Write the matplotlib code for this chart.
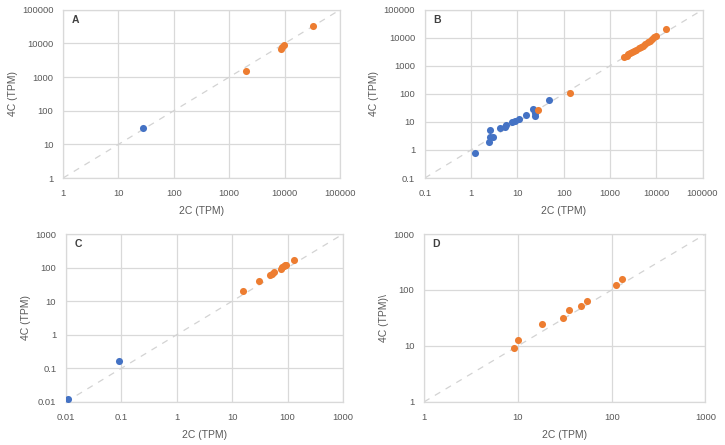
import matplotlib
matplotlib.use("Agg")
import matplotlib.pyplot as plt
from matplotlib.ticker import FixedLocator, FixedFormatter

plt.rcParams['font.family'] = ['Liberation Sans', 'DejaVu Sans']

BLUE = "#4472C4"
ORANGE = "#ED7D31"
GRID = "#D9D9D9"
TEXT = "#595959"

# panel A
a_blue_x = [28]
a_blue_y = [30]
a_orange_x = [2000, 8500, 9000, 9600, 32000]
a_orange_y = [1500, 7000, 8000, 9200, 32000]

# panel B
b_blue_x = [1.2, 2.4, 2.6, 2.5, 3.0, 4.2, 5.5, 5.6, 7.5, 9.0, 11, 15, 22, 24, 24, 47]
b_blue_y = [0.8, 2.0, 2.8, 5.0, 3.0, 6.0, 6.5, 8.0, 10, 11, 13, 18, 28, 20, 16, 60]
b_orange_x = [28, 140, 2000, 2300, 2500, 2700, 3000, 3300, 3700, 4200, 4700,
              5200, 5800, 6500, 7200, 8000, 9000, 10000, 16000]
b_orange_y = [27, 110, 2000, 2300, 2600, 2800, 3000, 3400, 3800, 4300, 4700,
              5300, 6000, 7000, 7800, 9000, 11000, 12000, 20000]

# panel C
c_blue_x = [0.011, 0.09]
c_blue_y = [0.012, 0.17]
c_orange_x = [16, 30, 48, 52, 58, 75, 80, 85, 90, 95, 130]
c_orange_y = [20, 40, 60, 65, 72, 90, 105, 115, 120, 118, 170]

# panel D
d_orange_x = [9.2, 10, 18, 30, 35, 47, 55, 112, 130]
d_orange_y = [9, 13, 25, 32, 43, 52, 63, 125, 160]

panels = [
    ("A", [0.087, 0.600, 0.382, 0.378], (1, 100000), a_blue_x, a_blue_y, a_orange_x, a_orange_y, "4C (TPM)"),
    ("B", [0.586, 0.600, 0.383, 0.378], (0.1, 100000), b_blue_x, b_blue_y, b_orange_x, b_orange_y, "4C (TPM)"),
    ("C", [0.091, 0.097, 0.382, 0.377], (0.01, 1000), c_blue_x, c_blue_y, c_orange_x, c_orange_y, "4C (TPM)"),
    ("D", [0.585, 0.097, 0.388, 0.377], (1, 1000), [], [], d_orange_x, d_orange_y, "4C (TPM)\\"),
]


def fmt(v):
    return ("%g" % v) if v < 1 else str(int(v))


fig = plt.figure(figsize=(7.25, 4.45), dpi=100)

for letter, rect, lims, bx, by, ox, oy, ylab in panels:
    ax = fig.add_axes(rect)
    ax.set_xscale("log")
    ax.set_yscale("log")
    ax.set_xlim(lims)
    ax.set_ylim(lims)
    ticks = []
    v = lims[0]
    while v <= lims[1] * 1.001:
        ticks.append(v)
        v *= 10
    for axis in (ax.xaxis, ax.yaxis):
        axis.set_major_locator(FixedLocator(ticks))
        axis.set_major_formatter(FixedFormatter([fmt(t) for t in ticks]))
        axis.set_minor_locator(FixedLocator([]))
    ax.grid(True, color=GRID, linewidth=0.9)
    ax.set_axisbelow(True)
    for s in ax.spines.values():
        s.set_color(GRID)
        s.set_linewidth(0.9)
    ax.tick_params(length=0, labelsize=6.8, labelcolor=TEXT)
    ax.tick_params(axis="x", pad=8)
    ax.tick_params(axis="y", pad=7)
    ax.plot(lims, lims, linestyle=(0, (5, 5)), color="#D3D3D3", linewidth=0.9, zorder=1)
    if bx:
        ax.scatter(bx, by, s=26, color=BLUE, zorder=3, linewidths=0)
    ax.scatter(ox, oy, s=26, color=ORANGE, zorder=3, linewidths=0)
    ax.set_xlabel("2C (TPM)", fontsize=7.5, color=TEXT, labelpad=6)
    ax.set_ylabel(ylab, fontsize=7.5, color=TEXT, labelpad=3)
    ax.text(0.03, 0.94, letter, transform=ax.transAxes, fontsize=7.5,
            fontweight="bold", color="#404040", va="center", ha="left")

fig.savefig("out.png", dpi=100, facecolor="white")
